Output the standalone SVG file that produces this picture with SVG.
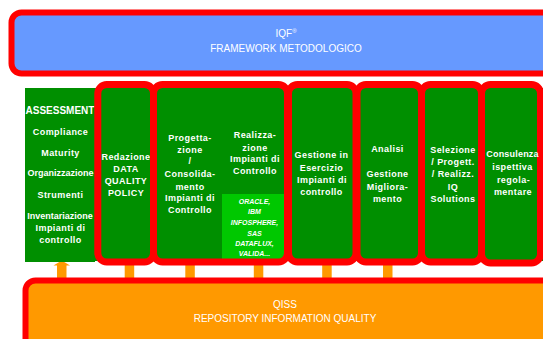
<svg xmlns="http://www.w3.org/2000/svg" width="543" height="339" viewBox="0 0 543 339">
<style>
.box{fill:#008F00;stroke:#FF0000;stroke-width:7}
.frame{stroke:#FF0000;stroke-width:6}
.t{font-family:"Liberation Sans",Arial,sans-serif;font-weight:bold;font-size:9px;fill:#FFFFFF;text-anchor:middle;letter-spacing:0.45px}
.big{font-family:"Liberation Sans",Arial,sans-serif;font-size:10px;fill:#FFFFFF;text-anchor:middle}
.sm{font-family:"Liberation Sans",Arial,sans-serif;font-weight:bold;font-style:italic;font-size:7px;fill:#FFFFFF;text-anchor:middle}
.bar{fill:#FF9900}
</style>
<rect width="543" height="339" fill="#FFFFFF"/>
<g id="framework">
<rect class="frame" x="11.5" y="12.5" width="560" height="61" rx="10" fill="#6699FF"/>
<text class="big" x="286" y="36.5">IQF<tspan font-size="6" dy="-4">®</tspan></text>
<text class="big" x="286" y="51.5">FRAMEWORK METODOLOGICO</text>
</g>
<g id="band">
<rect x="25" y="88" width="518" height="173" fill="#008F00"/>
</g>
<g id="connectors">
<rect class="bar" x="57" y="264" width="9.5" height="14"/>
<polygon class="bar" points="61.7,260.5 70,265.5 53.5,265.5"/>
<rect class="bar" x="124.7" y="262" width="9.5" height="16"/>
<rect class="bar" x="185.3" y="262" width="9.5" height="16"/>
<rect class="bar" x="253.8" y="262" width="9.5" height="16"/>
<rect class="bar" x="322.2" y="262" width="9.5" height="16"/>
<rect class="bar" x="383" y="262" width="9.5" height="16"/>
</g>
<g id="assessment">
<rect x="25" y="88" width="70" height="174" fill="#008F00"/>
<text class="t" x="60" y="114" style="font-size:10px;letter-spacing:0">ASSESSMENT</text>
<text class="t" x="60.5" y="135">Compliance</text>
<text class="t" x="60.5" y="156">Maturity</text>
<text class="t" x="60.5" y="176" style="letter-spacing:0">Organizzazione</text>
<text class="t" x="60.5" y="197.5">Strumenti</text>
<text class="t" x="60" y="219" style="letter-spacing:0">Inventariazione</text>
<text class="t" x="60.5" y="231">Impianti di</text>
<text class="t" x="60.5" y="243">controllo</text>
</g>
<g id="redazione">
<rect class="box" x="97.8" y="84.5" width="55.7" height="177.5" rx="9"/>
<text class="t" x="126" y="160">Redazione</text>
<text class="t" x="126" y="172">DATA</text>
<text class="t" x="126" y="183.5">QUALITY</text>
<text class="t" x="126" y="195.5">POLICY</text>
</g>
<g id="progettazione-realizzazione">
<rect x="153.5" y="84.5" width="134" height="177.5" rx="9" fill="#008F00"/>
<rect x="222" y="194" width="62" height="65" fill="#00C800"/>
<rect class="box" x="153.5" y="84.5" width="134" height="177.5" rx="9" style="fill:none"/>
<text class="t" x="190" y="141">Progetta-</text>
<text class="t" x="190" y="153">zione</text>
<text class="t" x="190" y="164">/</text>
<text class="t" x="190" y="177">Consolida-</text>
<text class="t" x="190" y="189.5">mento</text>
<text class="t" x="190" y="201">Impianti di</text>
<text class="t" x="190" y="213">Controllo</text>
<text class="t" x="255" y="138">Realizza-</text>
<text class="t" x="255" y="150.5">zione</text>
<text class="t" x="255" y="162">Impianti di</text>
<text class="t" x="255" y="174">Controllo</text>
<text class="sm" x="254.5" y="204">ORACLE,</text>
<text class="sm" x="254.5" y="214">IBM</text>
<text class="sm" x="254.5" y="225">INFOSPHERE,</text>
<text class="sm" x="254.5" y="235.5">SAS</text>
<text class="sm" x="254.5" y="246">DATAFLUX,</text>
<text class="sm" x="254.5" y="256">VALIDA...</text>
</g>
<g id="gestione-esercizio">
<rect class="box" x="288.5" y="84.5" width="67.5" height="177.5" rx="9"/>
<text class="t" x="321.5" y="158">Gestione in</text>
<text class="t" x="321.5" y="170.5">Esercizio</text>
<text class="t" x="322" y="182.5">Impianti di</text>
<text class="t" x="321.5" y="195">controllo</text>
</g>
<g id="analisi">
<rect class="box" x="357" y="84.5" width="64.5" height="177.5" rx="9"/>
<text class="t" x="387.5" y="152">Analisi</text>
<text class="t" x="387.5" y="177">Gestione</text>
<text class="t" x="387.5" y="189.5">Migliora-</text>
<text class="t" x="387.5" y="202">mento</text>
</g>
<g id="selezione">
<rect class="box" x="421.5" y="84.5" width="60" height="177.5" rx="9"/>
<text class="t" x="453" y="152.5">Selezione</text>
<text class="t" x="453" y="164.5">/ Progett.</text>
<text class="t" x="453" y="177">/ Realizz.</text>
<text class="t" x="453" y="189.5">IQ</text>
<text class="t" x="453" y="202">Solutions</text>
</g>
<g id="consulenza">
<rect class="box" x="481.5" y="84.5" width="59" height="178.5" rx="9"/>
<text class="t" x="512.5" y="157" style="letter-spacing:0.2px">Consulenza</text>
<text class="t" x="512.5" y="170">ispettiva</text>
<text class="t" x="513.5" y="182.5">regola-</text>
<text class="t" x="513" y="195">mentare</text>
</g>
<g id="qiss">
<rect class="frame" x="25.5" y="280.5" width="560" height="80" rx="10" fill="#FF9900"/>
<text class="big" x="285" y="307.5">QISS</text>
<text class="big" x="285" y="322">REPOSITORY INFORMATION QUALITY</text>
</g>
</svg>
